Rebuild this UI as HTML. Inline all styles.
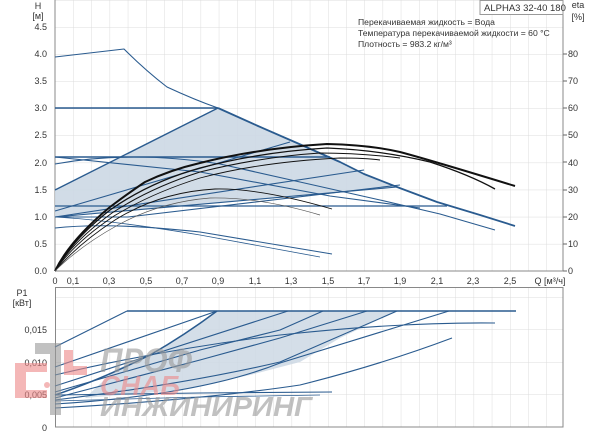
<!DOCTYPE html>
<html><head><meta charset="utf-8"><style>
html,body{margin:0;padding:0;background:#fff;}
svg{display:block;font-family:"Liberation Sans",sans-serif;}
</style></head><body>
<svg width="600" height="434" viewBox="0 0 600 434" xmlns="http://www.w3.org/2000/svg">
<defs>
<pattern id="g1" x="55" y="0" width="18.2" height="27.1" patternUnits="userSpaceOnUse">
<path d="M0 0V27.1M0 0H18.2" stroke="#dcdcdc" stroke-width="1" fill="none"/></pattern>
<pattern id="g2" x="55" y="264.5" width="18.2" height="32.5" patternUnits="userSpaceOnUse">
<path d="M0 0V32.5M0 0H18.2" stroke="#dcdcdc" stroke-width="1" fill="none"/></pattern>
</defs>
<rect width="600" height="434" fill="#fff"/>
<rect x="55" y="0" width="508" height="271" fill="url(#g1)"/>
<line x1="55" y1="0" x2="55" y2="271" stroke="#888"/>
<line x1="55" y1="271" x2="563" y2="271" stroke="#888"/>
<line x1="563" y1="0" x2="563" y2="271" stroke="#888"/>
<rect x="480" y="0.5" width="83" height="14" fill="#fff" stroke="#999"/>
<text x="484" y="11" font-size="9.5" fill="#333">ALPHA3 32-40 180</text>
<g font-size="8.6" fill="#333">
<text x="358" y="25">Перекачиваемая жидкость = Вода</text>
<text x="358" y="36">Температура перекачиваемой жидкости = 60 °C</text>
<text x="358" y="47">Плотность = 983.2 кг/м³</text>
</g>
<g font-size="9" fill="#333" text-anchor="end">
<text x="38" y="9" text-anchor="middle">H</text>
<text x="38" y="19" text-anchor="middle">[м]</text>
<text x="47" y="30">4.5</text><text x="47" y="57">4.0</text><text x="47" y="84">3.5</text>
<text x="47" y="111">3.0</text><text x="47" y="138">2.5</text><text x="47" y="166">2.0</text>
<text x="47" y="193">1.5</text><text x="47" y="220">1.0</text><text x="47" y="247">0.5</text>
<text x="47" y="274">0.0</text>
</g>
<g font-size="9" fill="#333">
<text x="578" y="8" text-anchor="middle">eta</text>
<text x="578" y="20" text-anchor="middle">[%]</text>
<text x="568" y="57">80</text><text x="568" y="84">70</text><text x="568" y="111">60</text>
<text x="568" y="138">50</text><text x="568" y="166">40</text><text x="568" y="193">30</text>
<text x="568" y="220">20</text><text x="568" y="247">10</text><text x="568" y="274">0</text>
</g>
<g stroke="#666"><path d="M563 54h4M563 81h4M563 108h4M563 135h4M563 162h4M563 190h4M563 217h4M563 244h4M563 271h4"/></g>
<g font-size="9" fill="#333" text-anchor="middle">
<text x="55" y="284">0</text><text x="73" y="284">0,1</text><text x="109" y="284">0,3</text>
<text x="146" y="284">0,5</text><text x="182" y="284">0,7</text><text x="218" y="284">0,9</text>
<text x="255" y="284">1,1</text><text x="291" y="284">1,3</text><text x="328" y="284">1,5</text>
<text x="364" y="284">1,7</text><text x="400" y="284">1,9</text><text x="437" y="284">2,1</text>
<text x="473" y="284">2,3</text><text x="510" y="284">2,5</text>
<text x="550" y="284">Q [м³/ч]</text>
</g>
<path d="M55 217L55 190L218 108L258 126L297 143L340 162L364 174L397 187L300 196L200 204L55 217Z" fill="#ccd8e4" opacity="0.9"/>
<g fill="none" stroke="#2a5b8f" stroke-width="1.1" stroke-linejoin="round">
<path d="M55 57L124 49Q145 70 167 87Q195 100 218 108"/>
<path d="M218 108L258 126L297 143L340 162L364 174L397 187L437 202L480 215L515 226" stroke-width="1.8"/>
<path d="M55 108H218" stroke-width="1.4"/>
<path d="M55 190L218 108" stroke-width="1.4"/>
<path d="M55 157H330" stroke-width="1.4"/>
<path d="M55 164Q130 150 220 164L300 182L380 200L440 214L495 230"/>
<path d="M55 206H447" stroke-width="1.3"/>
<path d="M55 217H128"/>
<path d="M55 211L290 142"/>
<path d="M55 217L364 170"/>
<path d="M55 217L397 187"/>
<path d="M128 217L400 185"/>
<path d="M55 157L200 172L330 196L420 208"/>
<path d="M55 228Q110 222 200 232L332 254"/>
<path d="M55 217Q110 220 200 235L320 257" stroke-width="0.8"/>
</g>
<g fill="none" stroke="#111" stroke-linejoin="round">
<path d="M55 271Q70 240 110 207Q130 192 145 182Q170 170 200 163Q260 148 327 144Q370 145 400 152Q430 160 515 186" stroke-width="2"/>
<path d="M55 271Q72 240 110 210Q150 182 200 168Q260 152 327 148Q380 150 430 162Q470 175 495 189" stroke-width="1.3"/>
<path d="M55 271Q72 242 112 213Q150 188 200 172Q260 157 320 153Q360 153 400 158" stroke-width="1"/>
<path d="M55 271Q74 243 114 216Q152 193 200 178Q260 162 340 158Q365 158 380 160" stroke-width="0.9"/>
<path d="M55 271Q78 244 115 220Q160 192 215 189Q260 188 332 209" stroke-width="0.9"/>
<path d="M55 271Q80 246 118 225Q160 202 210 198Q260 197 320 215" stroke-width="0.7" stroke="#555"/>
</g>
<!-- lower chart -->
<rect x="55" y="287" width="508" height="140" fill="url(#g2)"/>
<rect x="55.5" y="287.5" width="507.5" height="139.5" fill="none" stroke="#888"/>
<g font-size="9" fill="#333">
<text x="22" y="296" text-anchor="middle">P1</text>
<text x="22" y="306" text-anchor="middle">[кВт]</text>
<text x="47" y="333" text-anchor="end">0,015</text>
<text x="47" y="366" text-anchor="end">0,010</text>
<text x="47" y="398" text-anchor="end">0,005</text>
<text x="47" y="431" text-anchor="end">0</text>
</g>
<path d="M217 311L397 311L340 338L300 362L250 375L180 390L85 398L115 370L160 350Z" fill="#ccd8e4" opacity="0.85"/>
<g fill="none" stroke="#2a5b8f" stroke-width="1.1" stroke-linejoin="round">
<path d="M127 311H516" stroke-width="1.6"/>
<path d="M55 347L127 311"/>
<path d="M55 367L217 311"/>
<path d="M55 395Q100 380 150 355Q185 335 217 311" stroke-width="1.5"/>
<path d="M55 386L288 311"/>
<path d="M55 392L200 350L280 330L323 311"/>
<path d="M55 398L200 360L280 338L367 311"/>
<path d="M55 400Q180 385 280 362L397 311"/>
<path d="M55 404Q200 395 280 363Q370 335 449 311"/>
<path d="M55 375Q160 350 280 335Q400 322 495 323"/>
<path d="M55 408Q200 400 300 385Q380 365 452 338"/>
<path d="M55 395L200 393L332 392"/>
<path d="M55 401L200 397L320 395" stroke-width="0.8"/>
</g>
<!-- watermark on top -->
<g opacity="0.6">
<path d="M35 343h26v72h-11v-61h-15z" fill="#999"/>
<path d="M15 363h32v9h-21v18h21v8h-32z" fill="#ee8888"/>
<circle cx="47" cy="385" r="3" fill="#ee8888"/>
<path d="M64 350h9v16h14v9h-23z" fill="#ee8888"/>
<text x="100" y="372" font-size="34" font-weight="bold" font-style="italic" fill="#999" textLength="92" lengthAdjust="spacingAndGlyphs">ПРОФ</text>
<text x="100" y="395" font-size="28" font-weight="bold" font-style="italic" fill="#ee8888" textLength="80" lengthAdjust="spacingAndGlyphs">СНАБ</text>
<text x="100" y="416" font-size="28" font-weight="bold" font-style="italic" fill="#999" textLength="212" lengthAdjust="spacingAndGlyphs">ИНЖИНИРИНГ</text>
</g>
</svg>
</body></html>
